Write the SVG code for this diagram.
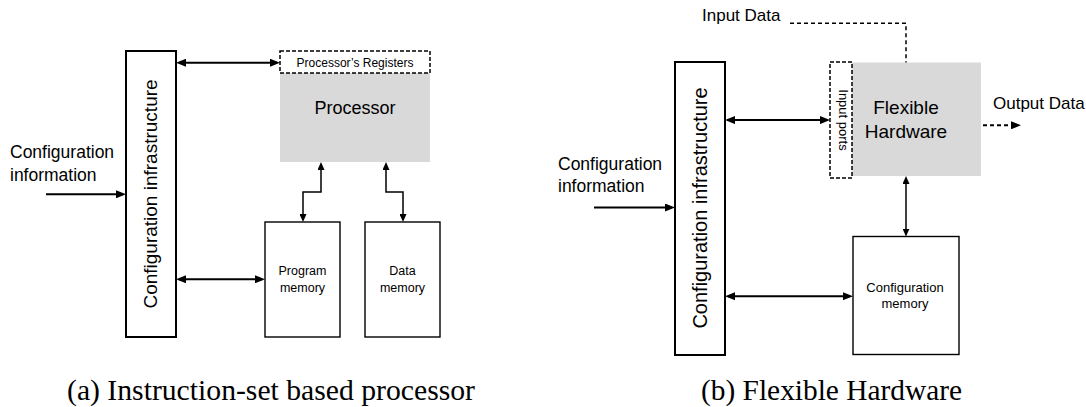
<svg xmlns="http://www.w3.org/2000/svg" width="1086" height="407" viewBox="0 0 1086 407">
<style>
text{font-family:"Liberation Sans",Arial,sans-serif;fill:#000}
.cap{font-family:"Liberation Serif","Times New Roman",serif;font-size:29px}
.box{fill:#fff;stroke:#000;stroke-width:1.4}
.thick{fill:#fff;stroke:#000;stroke-width:2}
.gray{fill:#d9d9d9;stroke:none}
.dbox{fill:#fff;stroke:#000;stroke-width:1.5;stroke-dasharray:4 2}
.arr{fill:none;stroke:#000;stroke-width:2}
.arrs{fill:none;stroke:#000;stroke-width:1.5}
.dash{fill:none;stroke:#000;stroke-width:1.5;stroke-dasharray:4 3}
</style>
<defs>
<marker id="ah" viewBox="0 0 10 8" refX="7" refY="4" markerWidth="10" markerHeight="8" markerUnits="userSpaceOnUse" orient="auto-start-reverse"><path d="M0,0 L10,4 L0,8 z" fill="#000"/></marker>
<marker id="as" viewBox="0 0 8 7" refX="6" refY="3.5" markerWidth="8" markerHeight="7" markerUnits="userSpaceOnUse" orient="auto-start-reverse"><path d="M0,0 L8,3.5 L0,7 z" fill="#000"/></marker>
</defs>

<!-- (a) -->
<g id="a-config-label">
<text x="10" y="158" font-size="17.5">Configuration</text>
<text x="10" y="181" font-size="17.5">information</text>
</g>
<g id="a-config-infra">
<rect class="thick" x="126" y="51" width="50" height="286"/>
<text transform="translate(157,194) rotate(-90)" text-anchor="middle" font-size="19">Configuration infrastructure</text>
</g>
<g id="a-processor">
<rect class="gray" x="280" y="73" width="150" height="89"/>
<text x="355" y="114" text-anchor="middle" font-size="18">Processor</text>
</g>
<g id="a-registers">
<rect class="dbox" x="280" y="51" width="150" height="22"/>
<text x="355" y="66.5" text-anchor="middle" font-size="12">Processor’s Registers</text>
</g>
<g id="a-program-memory">
<rect class="box" x="265" y="222" width="75" height="115"/>
<text x="302.5" y="275" text-anchor="middle" font-size="12.5">Program</text>
<text x="302.5" y="291.5" text-anchor="middle" font-size="12.5">memory</text>
</g>
<g id="a-data-memory">
<rect class="box" x="365" y="222" width="75" height="115"/>
<text x="402.5" y="275" text-anchor="middle" font-size="12.5">Data</text>
<text x="402.5" y="291.5" text-anchor="middle" font-size="12.5">memory</text>
</g>
<text class="cap" x="67" y="400" textLength="408" lengthAdjust="spacingAndGlyphs">(a) Instruction-set based processor</text>

<!-- (b) -->
<g id="b-config-label">
<text x="558" y="169.6" font-size="17.5">Configuration</text>
<text x="558" y="192.2" font-size="17.5">information</text>
</g>
<g id="b-config-infra">
<rect class="thick" x="675" y="62" width="50" height="293"/>
<text transform="translate(707,208) rotate(-90)" text-anchor="middle" font-size="20">Configuration infrastructure</text>
</g>
<g id="b-flexible-hardware">
<rect class="gray" x="852" y="62.5" width="129" height="113.5"/>
<text x="906" y="113.7" text-anchor="middle" font-size="19">Flexible</text>
<text x="906" y="138.2" text-anchor="middle" font-size="19">Hardware</text>
</g>
<g id="b-input-ports">
<rect class="dbox" x="830" y="62" width="22" height="116"/>
<text transform="translate(839,120) rotate(90)" text-anchor="middle" font-size="13">Input ports</text>
</g>
<g id="b-config-memory">
<rect class="box" x="853" y="236.5" width="106" height="118"/>
<text x="905" y="291.8" text-anchor="middle" font-size="13">Configuration</text>
<text x="905" y="307.8" text-anchor="middle" font-size="13">memory</text>
</g>
<g id="b-input-data"><text x="702" y="20.5" font-size="17">Input Data</text></g>
<g id="b-output-data"><text x="993" y="108.5" font-size="17">Output Data</text></g>
<text class="cap" x="701" y="400" textLength="261" lengthAdjust="spacingAndGlyphs">(b) Flexible Hardware</text>

<g id="connectors">
<path class="arr" d="M46,194.3 H123" marker-end="url(#ah)"/>
<path class="arr" d="M179,62.7 H277" marker-start="url(#ah)" marker-end="url(#ah)"/>
<path class="arr" d="M179,279.3 H262" marker-start="url(#ah)" marker-end="url(#ah)"/>
<path class="arrs" d="M321,164 V192 H303 V220" marker-start="url(#as)" marker-end="url(#as)"/>
<path class="arrs" d="M386,164 V192 H403 V220" marker-start="url(#as)" marker-end="url(#as)"/>

<path class="arr" d="M594,207.5 H672" marker-end="url(#ah)"/>
<path class="arr" d="M728,120.1 H827" marker-start="url(#ah)" marker-end="url(#ah)"/>
<path class="arr" d="M728,296.2 H850" marker-start="url(#ah)" marker-end="url(#ah)"/>
<path class="arrs" d="M906,178 V234.5" marker-start="url(#as)" marker-end="url(#as)"/>
<path class="dash" d="M790,23.2 H906 V62.5"/>
<path class="dash" style="stroke-width:2" d="M983,125.3 H1018" marker-end="url(#ah)"/>
</g>
</svg>
